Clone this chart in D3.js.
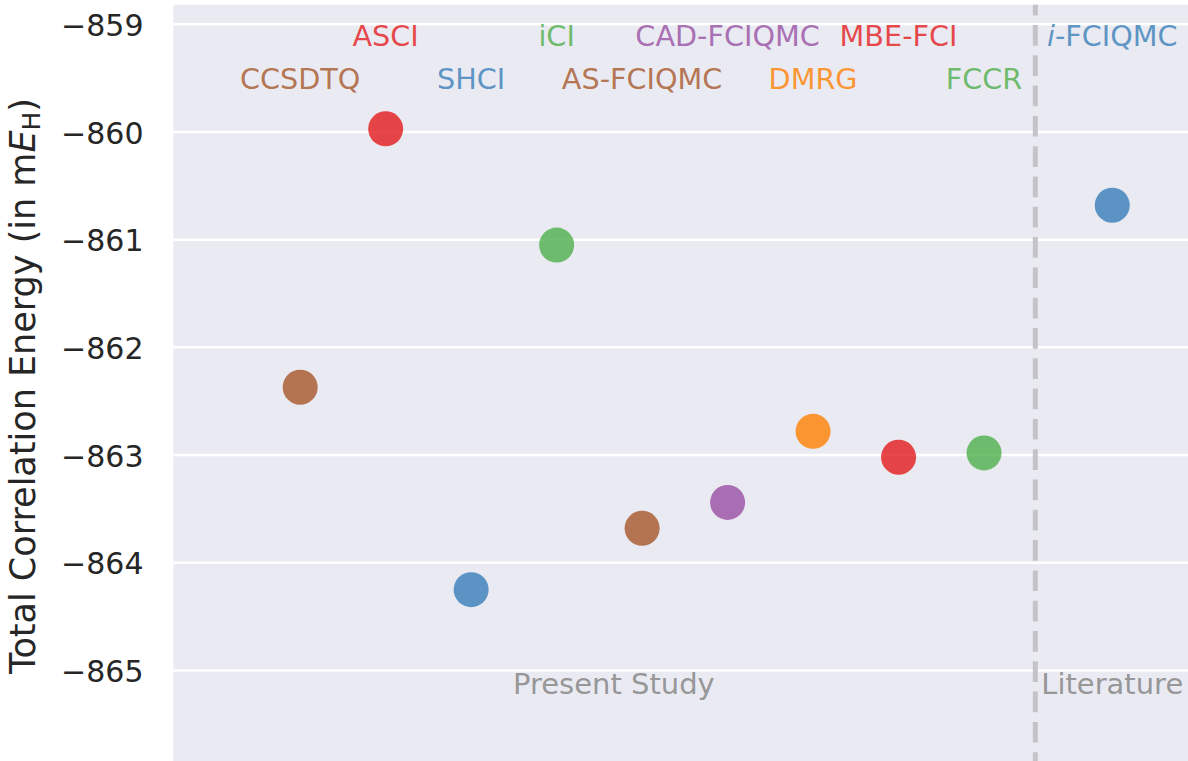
<!DOCTYPE html>
<html>
<head>
<meta charset="utf-8">
<script src="https://cdn.jsdelivr.net/npm/d3@7"></script>
<style>
  body { margin: 0; background: #fff; }
  svg { display: block; font-family: "DejaVu Sans", sans-serif; }
  .axis path, .axis line { display: none; }
  .axis text { fill: #262626; font-size: 30px; font-family: "DejaVu Sans", sans-serif; }
</style>
</head>
<body>
<svg id="chart"></svg>
<script>
// methods along the x axis (position 9.5 is the literature value)
var methods = ["CCSDTQ", "ASCI", "SHCI", "iCI", "AS-FCIQMC", "CAD-FCIQMC", "DMRG", "MBE-FCI", "FCCR", "i-FCIQMC"];
var positions = [0, 1, 2, 3, 4, 5, 6, 7, 8, 9.5];
var energies = [-862.37, -859.97, -864.25, -861.05, -863.68, -863.44, -862.78, -863.02, -862.98, -860.68];
var colours = ["#a65628", "#e41a1c", "#377eb8", "#4daf4a", "#a65628", "#984ea3", "#ff7f00", "#e41a1c", "#4daf4a", "#377eb8"];
var yTicks = [-859, -860, -861, -862, -863, -864, -865];
var groupNames = ["Present Study", "Literature"];
var groupPositions = [3.67, 9.5];
var divider = 8.6;

var width = 1188;
var height = 761;
var plot = { left: 173.5, top: 4.7, right: 1188, bottom: 761 };

var svg = d3.select("#chart")
  .attr("width", width)
  .attr("height", height);

var x = d3.scaleLinear()
  .domain([-1.482, 10.386])
  .range([plot.left, plot.right]);

var y = d3.scaleLinear()
  .domain([-858.818, -865.841])
  .range([plot.top, plot.bottom]);

// background
svg.append("rect")
  .attr("x", plot.left)
  .attr("y", plot.top)
  .attr("width", plot.right - plot.left)
  .attr("height", plot.bottom - plot.top)
  .attr("fill", "#eaeaf2");

// grid
svg.append("g")
  .selectAll("line")
  .data(yTicks)
  .enter()
  .append("line")
  .attr("x1", plot.left)
  .attr("x2", plot.right)
  .attr("y1", function(d){ return y(d); })
  .attr("y2", function(d){ return y(d); })
  .attr("stroke", "#fff")
  .attr("stroke-width", 2.5);

// y axis
var yaxis = d3.axisLeft(y)
  .tickValues(yTicks)
  .tickSize(0)
  .tickPadding(30)
  .tickFormat(d3.format("d"));

svg.append("g")
  .attr("class", "axis")
  .attr("transform", "translate(" + plot.left + ",0)")
  .call(yaxis)
  .selectAll("text")
  .attr("dy", "0.37em");

// y label
var ylabel = svg.append("text")
  .attr("transform", "translate(35,386) rotate(-90)")
  .attr("text-anchor", "middle")
  .attr("fill", "#262626")
  .style("font-size", "35px");
ylabel.append("tspan").text("Total Correlation Energy (in m");
ylabel.append("tspan").style("font-style", "italic").text("E");
ylabel.append("tspan").style("font-size", "25px").attr("dy", 5).text("H");
ylabel.append("tspan").attr("dy", -5).text(")");

// divider between present study and literature
svg.append("line")
  .attr("x1", x(divider))
  .attr("x2", x(divider))
  .attr("y1", plot.top)
  .attr("y2", plot.bottom)
  .attr("stroke", "#c4c4c8")
  .attr("stroke-width", 5)
  .attr("stroke-dasharray", "20.7,9.6")
  .attr("stroke-dashoffset", 10);

// group captions
svg.append("g")
  .selectAll("text")
  .data(groupNames)
  .enter()
  .append("text")
  .attr("x", function(d, i){ return x(groupPositions[i]); })
  .attr("y", 694)
  .attr("text-anchor", "middle")
  .attr("fill", "#808080")
  .attr("fill-opacity", 0.8)
  .style("font-size", "29px")
  .text(function(d){ return d; });

// points
svg.append("g")
  .selectAll("circle")
  .data(methods)
  .enter()
  .append("circle")
  .attr("cx", function(d, i){ return x(positions[i]); })
  .attr("cy", function(d, i){ return y(energies[i]); })
  .attr("r", 17.5)
  .attr("fill", function(d, i){ return colours[i]; })
  .attr("fill-opacity", 0.8);

// method names, alternating between two rows
var names = svg.append("g")
  .selectAll("text")
  .data(methods)
  .enter()
  .append("text")
  .attr("x", function(d, i){ return x(positions[i]); })
  .attr("y", function(d, i){ return i % 2 === 0 && i < 9 ? 89 : 46; })
  .attr("text-anchor", "middle")
  .attr("fill", function(d, i){ return colours[i]; })
  .attr("fill-opacity", 0.8)
  .style("font-size", "28.7px");

names.each(function(d){
  var t = d3.select(this);
  if (d.indexOf("i-") === 0) {
    t.append("tspan").style("font-style", "italic").text("i");
    t.append("tspan").text(d.slice(1));
  } else {
    t.text(d);
  }
});
</script>
</body>
</html>
